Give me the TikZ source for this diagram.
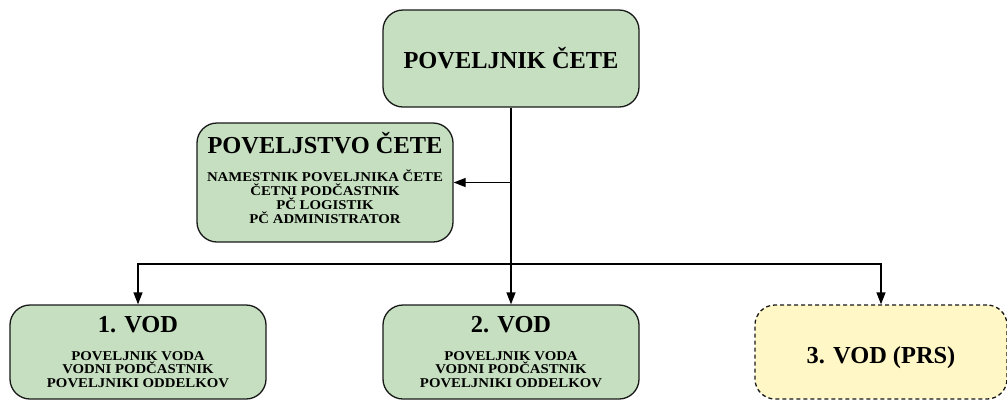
\documentclass[tikz,border=0pt]{standalone}
\usepackage{fontspec}
\setmainfont{Liberation Serif}
\newfontfamily\smallfam{Liberation Serif}[FakeStretch=1.1]
\usetikzlibrary{arrows.meta}
\definecolor{boxgreen}{HTML}{C6DFC0}
\definecolor{boxyellow}{HTML}{FFF7C5}
\newcommand{\ttlfont}{\rmfamily\fontsize{24.5}{14}\selectfont\bfseries}
\newcommand{\smlfont}{\smallfam\fontsize{13.5}{14}\selectfont\bfseries}
\tikzset{
  unitbox/.style={draw=black!90, line width=1.3bp, rounded corners=20bp, fill=boxgreen,
    minimum width=256bp, align=center, inner sep=0pt, font=\smlfont},
  prsbox/.style={unitbox, fill=boxyellow, dashed, dash pattern=on 4bp off 3bp},
  conn/.style={line width=1.3bp, draw=black, -{Triangle[length=12bp,width=9bp]}}
}
\begin{document}
\begin{tikzpicture}[x=1bp,y=-1bp]
\useasboundingbox (0,0) rectangle (1007,400);
\node[unitbox, minimum height=97bp] (top) at (511,58.5) {{\ttlfont POVELJNIK ČETE}};
\node[unitbox, minimum height=119bp] (cmd) at (325,182.5)
  {{\ttlfont POVELJSTVO ČETE}\\[14bp]
   NAMESTNIK POVELJNIKA ČETE\\ ČETNI PODČASTNIK\\ PČ LOGISTIK\\ PČ ADMINISTRATOR\rule[-9bp]{0pt}{0pt}};
\node[unitbox, minimum height=94bp] (v1) at (138,352)
  {{\ttlfont 1. VOD}\\[14bp]
   POVELJNIK VODA\\[-0.5bp] VODNI PODČASTNIK\\[-0.5bp] POVELJNIKI ODDELKOV};
\node[unitbox, minimum height=94bp] (v2) at (511,352)
  {{\ttlfont 2. VOD}\\[14bp]
   POVELJNIK VODA\\[-0.5bp] VODNI PODČASTNIK\\[-0.5bp] POVELJNIKI ODDELKOV};
\node[prsbox, minimum width=252bp, minimum height=94bp, text height=22bp, text depth=0pt] (v3) at (881,352)
  {{\ttlfont 3. VOD (PRS)}};
\coordinate (hbar) at (511,264);
\draw[conn] (top.south) -- (v2.north);
\draw[conn] (top.south |- cmd.east) -- (cmd.east);
\draw[conn] (hbar) -| (v1.north);
\draw[conn] (hbar) -| (v3.north);
\end{tikzpicture}
\end{document}
